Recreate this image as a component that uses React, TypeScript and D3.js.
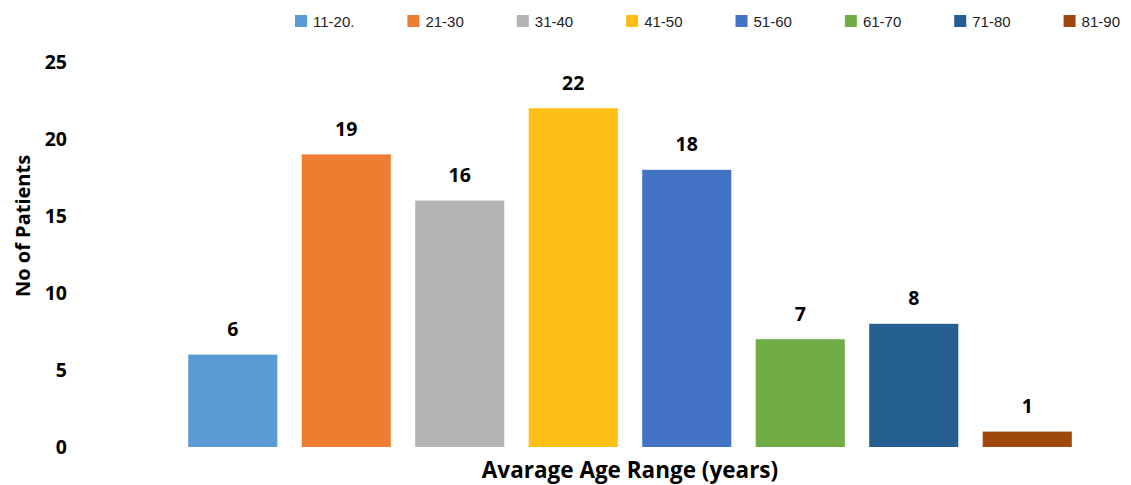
import React from "react";
import * as d3 from "d3";

const categories = ["11-20.", "21-30", "31-40", "41-50", "51-60", "61-70", "71-80", "81-90"];
const patients = [6, 19, 16, 22, 18, 7, 8, 1];
const colors = ["#5B9BD5", "#ED7D31", "#B4B4B4", "#FDBF16", "#4472C4", "#70AD47", "#255E91", "#9E480E"];
const yTicks = [0, 5, 10, 15, 20, 25];

const W = 1131;
const H = 485;
const margin = { top: 62, right: 47, bottom: 38, left: 176 };
const boldFont = "Open Sans, sans-serif";
const legendFont = "Liberation Sans, Arial, sans-serif";

function textWidth(text: string, font: string): number {
  const c = document.createElement("canvas").getContext("2d");
  if (!c) return text.length * 8;
  c.font = font;
  return c.measureText(text).width;
}

export default function App() {
  const x = d3
    .scaleBand<string>()
    .domain(categories)
    .range([margin.left, W - margin.right])
    .paddingInner(0.215)
    .paddingOuter(0.1075);
  const y = d3.scaleLinear().domain([0, 25]).range([H - margin.bottom, margin.top]);

  // legend: swatch + label, flowed left to right
  const legendX: number[] = [];
  let cursor = 295;
  categories.forEach((c) => {
    legendX.push(cursor);
    cursor += 12 + 6 + textWidth(c, `15px ${legendFont}`) + 53;
  });

  return (
    <svg width={W} height={H} style={{ position: "absolute", left: 0, top: 0, background: "#fff" }}>
      {/* legend */}
      {categories.map((c, i) => (
        <g key={c} transform={`translate(${legendX[i]},15)`}>
          <rect width={12} height={12} fill={colors[i]} />
          <text x={18} y={11.5} fontSize={15} fontFamily={legendFont} fill="#222">
            {c}
          </text>
        </g>
      ))}

      {/* y tick labels */}
      {yTicks.map((t) => (
        <text
          key={t}
          x={67}
          y={y(t)}
          dy="0.35em"
          textAnchor="end"
          fontSize={19.5}
          fontWeight={700}
          fontFamily={boldFont}
          fill="#000"
        >
          {t}
        </text>
      ))}

      {/* bars */}
      {patients.map((v, i) => (
        <rect
          key={categories[i]}
          x={x(categories[i])}
          y={y(v)}
          width={x.bandwidth()}
          height={y(0) - y(v)}
          fill={colors[i]}
        />
      ))}

      {/* value labels */}
      {patients.map((v, i) => (
        <text
          key={"l" + categories[i]}
          x={(x(categories[i]) as number) + x.bandwidth() / 2}
          y={y(v) - 18.5}
          textAnchor="middle"
          fontSize={19.5}
          fontWeight={700}
          fontFamily={boldFont}
          fill="#000"
        >
          {v}
        </text>
      ))}

      {/* axis titles */}
      <text
        x={630}
        y={478}
        textAnchor="middle"
        fontSize={22.5}
        fontWeight={700}
        fontFamily={boldFont}
        fill="#000"
      >
        Avarage Age Range (years)
      </text>
      <text
        transform="translate(30,226) rotate(-90)"
        textAnchor="middle"
        fontSize={20}
        fontWeight={700}
        fontFamily={boldFont}
        fill="#000"
      >
        No of Patients
      </text>
    </svg>
  );
}
